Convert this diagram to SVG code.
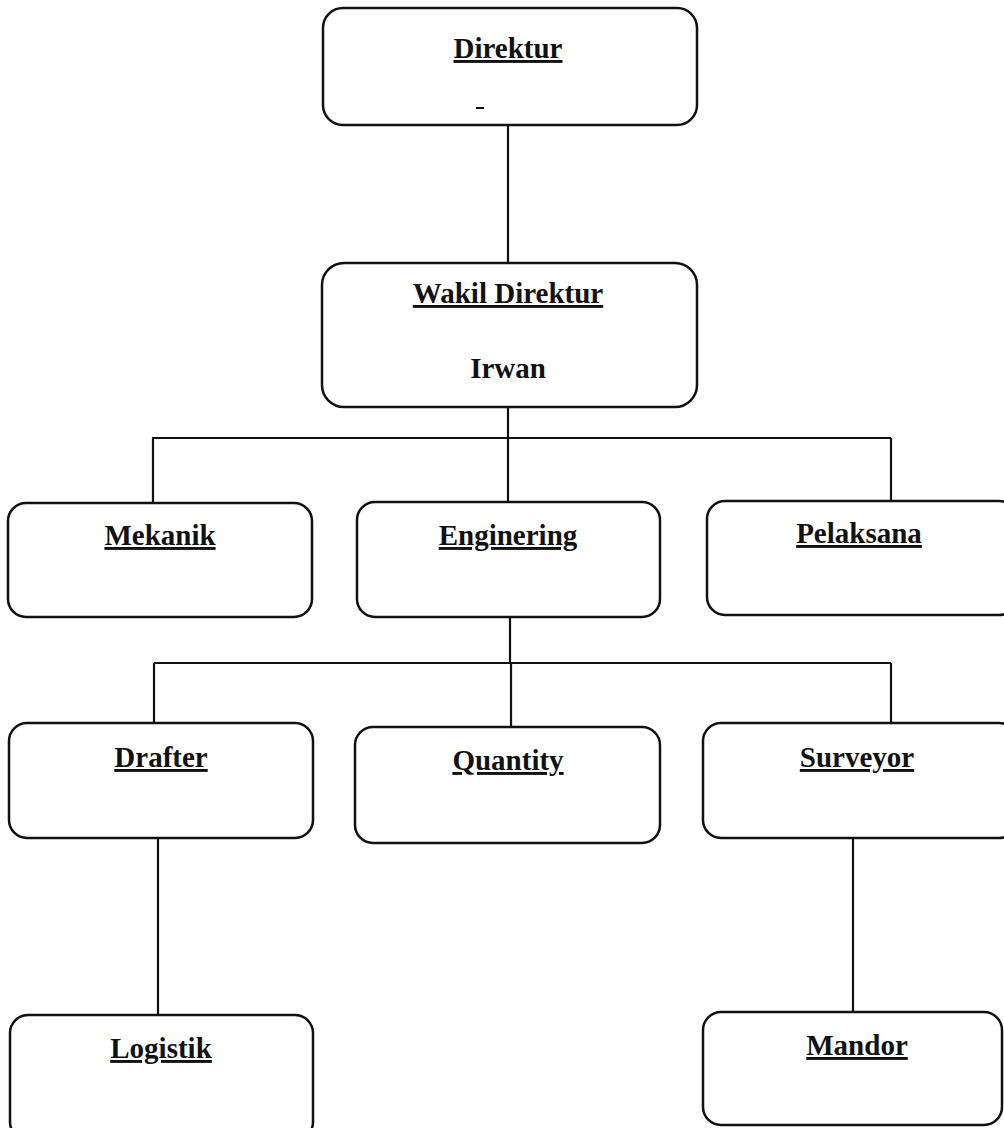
<svg xmlns="http://www.w3.org/2000/svg" width="1004" height="1128" viewBox="0 0 1004 1128">
<style>
.box{fill:#fff;stroke:#111;stroke-width:2.5}
.t{font-family:"Liberation Serif","Times New Roman",serif;font-weight:bold;font-size:29px;fill:#111;text-anchor:middle}
.u{text-decoration:underline}
.c{stroke:#111;stroke-width:2.2;fill:none}
</style>
<rect width="1004" height="1128" fill="#fff"/>
<g id="connectors">
<line class="c" x1="508" y1="125" x2="508" y2="263"/>
<line class="c" x1="508" y1="407" x2="508" y2="438"/>
<line class="c" x1="152" y1="438" x2="891" y2="438"/>
<line class="c" x1="153" y1="438" x2="153" y2="503"/>
<line class="c" x1="508" y1="438" x2="508" y2="502"/>
<line class="c" x1="891" y1="438" x2="891" y2="501"/>
<line class="c" x1="510" y1="617" x2="510" y2="663"/>
<line class="c" x1="154" y1="663" x2="891" y2="663"/>
<line class="c" x1="154" y1="663" x2="154" y2="723"/>
<line class="c" x1="511" y1="663" x2="511" y2="727"/>
<line class="c" x1="891" y1="663" x2="891" y2="723"/>
<line class="c" x1="158" y1="838" x2="158" y2="1015"/>
<line class="c" x1="853" y1="838" x2="853" y2="1012"/>
</g>
<g id="direktur">
<rect class="box" x="323" y="8" width="374" height="117" rx="20"/>
<text class="t u" x="508" y="58">Direktur</text>
<line x1="476" y1="108" x2="484" y2="108" stroke="#111" stroke-width="2"/>
</g>
<g id="wakil">
<rect class="box" x="322" y="263" width="375" height="144" rx="22"/>
<text class="t u" x="508" y="303">Wakil Direktur</text>
<text class="t" x="508" y="378">Irwan</text>
</g>
<g id="mekanik">
<rect class="box" x="8" y="503" width="304" height="114" rx="18"/>
<text class="t u" x="160" y="545">Mekanik</text>
</g>
<g id="enginering">
<rect class="box" x="357" y="502" width="303" height="115" rx="18"/>
<text class="t u" x="508" y="545">Enginering</text>
</g>
<g id="pelaksana">
<rect class="box" x="707" y="501" width="310" height="114" rx="18"/>
<text class="t u" x="859" y="543">Pelaksana</text>
</g>
<g id="drafter">
<rect class="box" x="9" y="723" width="304" height="115" rx="18"/>
<text class="t u" x="161" y="767">Drafter</text>
</g>
<g id="quantity">
<rect class="box" x="355" y="727" width="305" height="116" rx="18"/>
<text class="t u" x="508" y="770">Quantity</text>
</g>
<g id="surveyor">
<rect class="box" x="703" y="723" width="314" height="115" rx="18"/>
<text class="t u" x="857" y="767">Surveyor</text>
</g>
<g id="logistik">
<rect class="box" x="10" y="1015" width="303" height="125" rx="18"/>
<text class="t u" x="161" y="1058">Logistik</text>
</g>
<g id="mandor">
<rect class="box" x="703" y="1012" width="299" height="113" rx="18"/>
<text class="t u" x="857" y="1055">Mandor</text>
</g>
</svg>
